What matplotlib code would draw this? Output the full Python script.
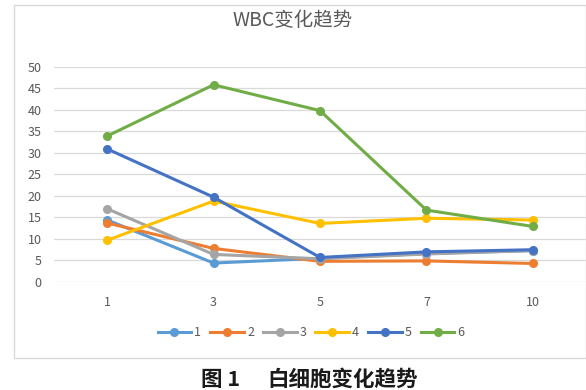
import matplotlib
matplotlib.use('Agg')
import matplotlib.pyplot as plt
from matplotlib.patches import Rectangle

plt.rcParams['font.family'] = ['Noto Sans CJK SC', 'DejaVu Sans']

days   = ['1', '3', '5', '7', '10']
names  = ['1', '2', '3', '4', '5', '6']
s1 = [14.4, 4.4, 5.5, 6.6, 7.3]
s2 = [13.7, 7.8, 4.8, 4.9, 4.3]
s3 = [17.0, 6.4, 5.4, 6.5, 7.3]
s4 = [9.7, 18.8, 13.6, 14.8, 14.4]
s5 = [30.9, 19.7, 5.7, 7.0, 7.5]
s6 = [33.9, 45.8, 39.8, 16.7, 12.9]
colors = ['#5b9bd5', '#ed7d31', '#a5a5a5', '#ffc000', '#4472c4', '#70ad47']

W, H = 586, 390
fig = plt.figure(figsize=(W / 100, H / 100), dpi=100)
fig.patch.set_facecolor('white')

# chart area border (excel-like)
fig.patches.append(Rectangle((14 / W, 1 - 358 / H), (W - 14) / W, (358 - 5) / H,
                             transform=fig.transFigure, fill=False,
                             edgecolor='#d9d9d9', linewidth=1.0))

ax = fig.add_axes([54 / W, 1 - 282 / H, 532 / W, (282 - 66.7) / H])
x = list(range(len(days)))
for vals, c, n in zip([s1, s2, s3, s4, s5, s6], colors, names):
    ax.plot(x, vals, color=c, linewidth=2.2, marker='o', markersize=5.5, label=n)

ax.set_xlim(-0.5, len(days) - 0.5)
ax.set_ylim(0, 50)
ax.set_yticks(range(0, 55, 5))
ax.set_xticks(x)
ax.set_xticklabels(days)
ax.grid(True, axis='y', color='#d9d9d9', linewidth=0.9)
ax.set_axisbelow(True)
for sp in ax.spines.values():
    sp.set_visible(False)
ax.tick_params(length=0, colors='#595959', labelsize=9, pad=9)
ax.tick_params(axis='x', pad=10)

fig.text(293 / W, 1 - 20 / H, 'WBC变化趋势', ha='center', va='center',
         fontsize=14, color='#595959')

fig.legend(loc='center', bbox_to_anchor=(311 / W, 1 - 333 / H), ncol=6,
           frameon=False, fontsize=9, handlelength=2.7, columnspacing=0.7,
           handletextpad=0.25, labelcolor='#595959')

fig.text(221 / W, 1 - 379 / H, '图 1', ha='center', va='center',
         fontsize=15.5, fontweight='bold', color='#1a1a1a')
fig.text(343 / W, 1 - 379 / H, '白细胞变化趋势', ha='center', va='center',
         fontsize=15.5, fontweight='bold', color='#1a1a1a')

plt.savefig('out.png', dpi=100, facecolor='white')
